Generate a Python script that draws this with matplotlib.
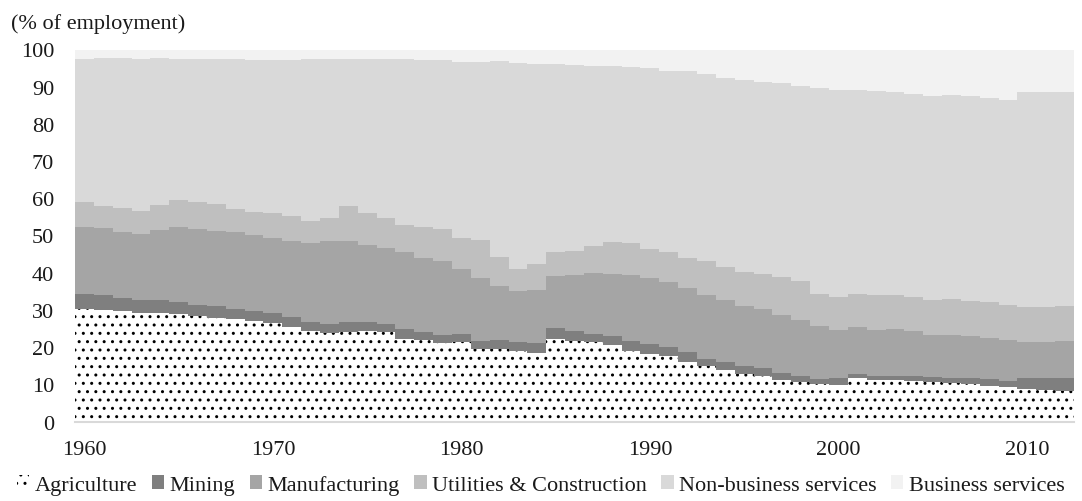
import numpy as np
import matplotlib
matplotlib.use("Agg")
import matplotlib.pyplot as plt
from matplotlib.patches import Patch

plt.rcParams['font.family'] = ['Liberation Serif', 'DejaVu Serif']
plt.rcParams['hatch.linewidth'] = 1.0

years = np.arange(1960, 2013)

# employment shares (% of total)
agriculture = [30.2, 30.1, 29.6, 29.3, 29.1, 28.8, 28.3, 27.8, 27.5, 27.0,
               26.6, 25.3, 24.3, 23.8, 24.0, 24.4, 24.0, 22.2, 21.9, 21.1,
               21.3, 19.5, 19.5, 18.9, 18.4, 22.2, 21.7, 21.3, 20.6, 19.0,
               18.2, 17.5, 16.1, 14.8, 13.9, 12.8, 12.3, 11.2, 10.7, 10.0,
               9.8, 11.6, 11.2, 11.2, 11.0, 10.7, 10.4, 10.0, 9.6, 9.2,
               8.7, 8.4, 8.1]
mining = [4.1, 3.9, 3.6, 3.4, 3.5, 3.2, 3.1, 3.2, 2.8, 2.7,
          2.7, 2.8, 2.5, 2.4, 2.7, 2.4, 2.2, 2.7, 2.2, 2.2,
          2.2, 2.2, 2.4, 2.6, 2.6, 2.9, 2.7, 2.2, 2.3, 2.6,
          2.6, 2.4, 2.5, 2.0, 2.2, 2.0, 2.0, 1.8, 1.6, 1.4,
          1.8, 1.2, 1.1, 1.1, 1.1, 1.3, 1.4, 1.6, 1.8, 1.8,
          2.9, 3.2, 3.5]
manufacturing = [18.1, 18.0, 17.8, 17.8, 19.0, 20.4, 20.4, 20.3, 20.6, 20.5,
                 20.1, 20.4, 21.1, 22.2, 21.9, 20.7, 20.4, 20.6, 19.8, 19.8,
                 17.4, 16.8, 14.6, 13.6, 14.4, 13.9, 14.9, 16.5, 16.7, 17.8,
                 17.7, 17.7, 17.3, 17.3, 16.6, 16.3, 15.9, 15.7, 15.1, 14.4,
                 13.1, 12.7, 12.4, 12.6, 12.3, 11.3, 11.5, 11.5, 11.0, 11.0,
                 9.9, 9.9, 10.0]
utilities = [6.5, 6.0, 6.4, 6.2, 6.7, 7.1, 7.2, 7.2, 6.3, 6.1,
             6.7, 6.8, 6.0, 6.3, 9.3, 8.5, 8.1, 7.4, 8.3, 8.7,
             8.4, 10.3, 7.8, 5.9, 6.9, 6.6, 6.6, 7.2, 8.6, 8.6,
             7.9, 8.0, 8.1, 9.1, 8.8, 9.1, 9.5, 10.1, 10.4, 8.5,
             8.7, 8.9, 9.3, 9.1, 9.0, 9.4, 9.6, 9.4, 9.8, 9.3,
             9.2, 9.4, 9.5]
non_business = [38.5, 39.7, 40.3, 40.7, 39.4, 37.9, 38.4, 38.9, 40.2, 40.9,
                41.1, 41.9, 43.5, 42.7, 39.5, 41.4, 42.7, 44.5, 45.1, 45.4,
                47.3, 47.8, 52.5, 55.5, 53.8, 50.5, 50.0, 48.4, 47.3, 47.3,
                48.5, 48.7, 50.2, 50.2, 50.9, 51.7, 51.6, 52.1, 52.5, 55.4,
                55.7, 54.7, 54.9, 54.5, 54.6, 54.8, 54.9, 54.9, 54.8, 55.2,
                57.8, 57.6, 57.4]
business = [2.6, 2.3, 2.3, 2.6, 2.3, 2.6, 2.6, 2.6, 2.6, 2.8,
            2.8, 2.8, 2.6, 2.6, 2.6, 2.6, 2.6, 2.6, 2.7, 2.8,
            3.4, 3.4, 3.2, 3.5, 3.9, 3.9, 4.1, 4.4, 4.5, 4.7,
            5.1, 5.7, 5.8, 6.6, 7.6, 8.1, 8.7, 9.1, 9.7, 10.3,
            10.9, 10.9, 11.1, 11.5, 12.0, 12.5, 12.2, 12.6, 13.0, 13.5,
            11.5, 11.5, 11.5]

labels = ['Agriculture', 'Mining', 'Manufacturing', 'Utilities & Construction',
          'Non-business services', 'Business services']
series = [agriculture, mining, manufacturing, utilities, non_business, business]
colors = ['white', '#7f7f7f', '#a5a5a5', '#bfbfbf', '#d9d9d9', '#f2f2f2']
hatches = ['..', None, None, None, None, None]

fig = plt.figure(figsize=(10.82, 5.02), dpi=100)
ax = fig.add_axes([75 / 1082, 1 - 422.5 / 502, 999 / 1082, 372 / 502])

# step areas: one flat segment per year
edges = np.append(years - 0.5, years[-1] + 0.5)
bottom = np.zeros(len(years))
for vals, col, h in zip(series, colors, hatches):
    top = bottom + np.array(vals)
    ax.fill_between(edges, np.append(bottom, bottom[-1]), np.append(top, top[-1]),
                    step='post', facecolor=col, edgecolor='black' if h else col,
                    hatch=h, linewidth=0)
    bottom = top

ax.set_xlim(1959.5, 2012.5)
ax.set_ylim(0, 100)
ax.set_yticks(range(0, 101, 10))
ax.set_xticks(range(1960, 2011, 10))
ax.tick_params(axis='both', length=0, labelsize=16, colors='#1a1a1a')
ax.tick_params(axis='y', pad=15)
ax.tick_params(axis='x', pad=13)
for s in ['top', 'right', 'left']:
    ax.spines[s].set_visible(False)
ax.spines['bottom'].set_color('#d9d9d9')
ax.spines['bottom'].set_linewidth(1.5)

fig.text(11 / 1082, 1 - 24 / 502, '(% of employment)', fontsize=16,
         va='center', ha='left', color='#1a1a1a')

handles = [Patch(facecolor=c, edgecolor='black' if h else c, hatch=h, linewidth=0)
           for c, h in zip(colors, hatches)]
fig.legend(handles, labels, loc='center', bbox_to_anchor=(0.5, 1 - 486 / 502),
           ncol=6, frameon=False, fontsize=16, handlelength=0.55, handleheight=0.6,
           handletextpad=0.25, columnspacing=0.65, labelcolor='#1a1a1a',
           borderpad=0, borderaxespad=0)

fig.savefig('out.png', dpi=100)
